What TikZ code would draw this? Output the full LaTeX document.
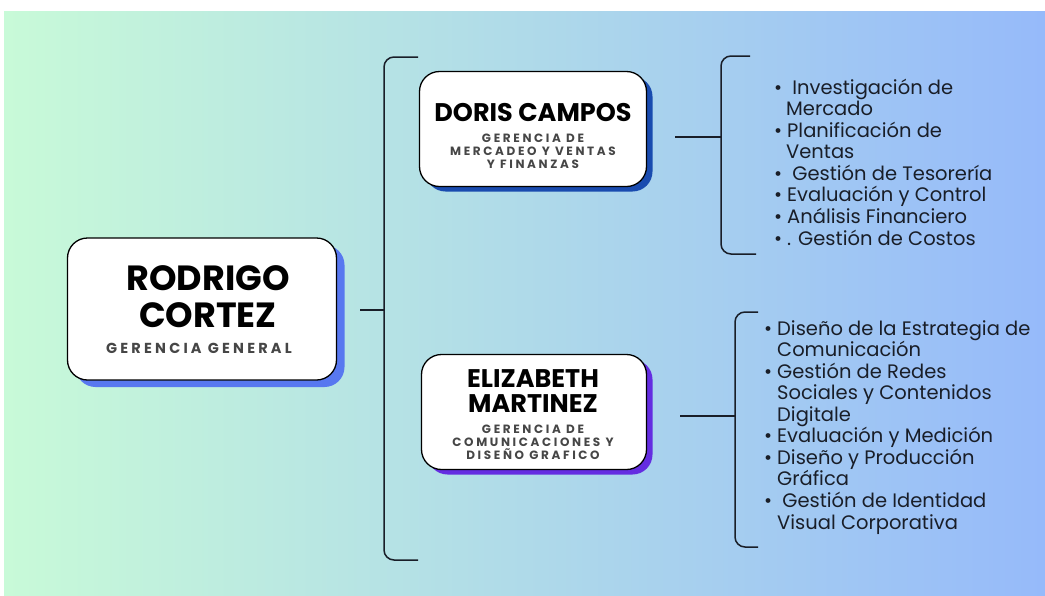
\documentclass[tikz,border=0pt]{standalone}
\usepackage{fontspec}
\setmainfont{Poppins}
\newfontfamily\subf{Poppins}[LetterSpace=22]
\definecolor{bgl}{RGB}{200,250,216}
\definecolor{bgm}{RGB}{177,222,232}
\definecolor{bgr}{RGB}{150,186,250}
\definecolor{shrod}{RGB}{88,120,240}
\definecolor{shdor}{RGB}{25,75,175}
\definecolor{sheli}{RGB}{100,45,225}
\definecolor{ink}{RGB}{25,30,40}
\definecolor{subink}{RGB}{70,70,70}
\begin{document}
\begin{tikzpicture}[x=1pt,y=-1pt,
  card/.style={draw=black, line width=1.3pt, fill=white, rounded corners=20pt, inner sep=0pt},
  cardsh/.style={rounded corners=20pt, inner sep=0pt},
  bigname/.style={font=\bfseries\fontsize{35}{37}\selectfont, align=center, text=black, inner sep=0pt},
  mgrname/.style={font=\bfseries\fontsize{25.5}{25}\selectfont, align=center, text=black, inner sep=0pt},
  subtx/.style={font=\subf\bfseries\fontsize{12}{12.8}\selectfont, align=center, text=subink, inner sep=0pt},
  brk/.style={draw=ink, line width=1.5pt, rounded corners=10pt},
  tickln/.style={draw=ink, line width=1.5pt},
  listitem/.style={font=\fontsize{19.5}{21}\selectfont, text=ink, anchor=base west, inner sep=0pt}
]
\useasboundingbox (0,0) rectangle (1045,595);
\fill[white] (0,0) rectangle (1045,595);
\shade[left color=bgl, middle color=bgm, right color=bgr] (4,11) rectangle (1045,595);

% Rodrigo
\node[cardsh, fill=shrod, minimum width=269pt, minimum height=142pt] (rodsh) at (210,316) {};
\node[card, minimum width=269pt, minimum height=142pt] (rod) at (202,309) {};
\node[bigname] (rodn) at (208,297) {RODRIGO\\CORTEZ};
\node[subtx, font=\subf\bfseries\fontsize{14.5}{15}\selectfont] (rods) at (199,348) {GERENCIA GENERAL};

% Doris
\node[cardsh, fill=shdor, minimum width=227pt, minimum height=115pt] (dorsh) at (539,134) {};
\node[card, minimum width=227pt, minimum height=115pt] (dor) at (533,129) {};
\node[mgrname] (dorn) at (533,113) {DORIS CAMPOS};
\node[subtx] (dors) at (533,151.5) {GERENCIA DE\\MERCADEO Y VENTAS\\Y FINANZAS};

% Elizabeth
\node[cardsh, fill=sheli, minimum width=225pt, minimum height=115pt] (elish) at (540,417) {};
\node[card, minimum width=225pt, minimum height=115pt] (eli) at (534,412) {};
\node[mgrname] (elin) at (533,391) {ELIZABETH\\MARTINEZ};
\node[subtx] (elis) at (533,442.5) {GERENCIA DE\\COMUNICACIONES Y\\DISEÑO GRAFICO};

% brackets and ticks
\coordinate (t0) at (360,310); \coordinate (b0) at (384,310);
\draw[brk] (418,57) -- (384,57) -- (384,560) -- (418,560);
\draw[tickln] (t0) -- (b0);

\coordinate (t1) at (675,137); \coordinate (b1) at (721,137);
\draw[brk] (750,56) -- (721,56) -- (721,254) -- (756,254);
\draw[tickln] (t1) -- (b1);

\coordinate (t2) at (680,416); \coordinate (b2) at (735,416);
\draw[brk] (758,312) -- (735,312) -- (735,547) -- (758,547);
\draw[tickln] (t2) -- (b2);

\newcommand{\bul}{\llap{•\kern5pt}}
% list 1
\node[listitem] (a1) at (787,94.0) {\bul\ Investigación de};
\node[listitem] (a2) at (786,115.6) {Mercado};
\node[listitem] (a3) at (787,137.1) {\bul Planificación de};
\node[listitem] (a4) at (786,158.7) {Ventas};
\node[listitem] (a5) at (787,180.3) {\bul\ Gestión de Tesorería};
\node[listitem] (a6) at (787,201.9) {\bul Evaluación y Control};
\node[listitem] (a7) at (787,223.4) {\bul Análisis Financiero};
\node[listitem] (a8) at (787,245.0) {\bul . Gestión de Costos};
% list 2
\node[listitem] (c1) at (777,335.0) {\bul Diseño de la Estrategia de};
\node[listitem] (c2) at (777,356.6) {Comunicación};
\node[listitem] (c3) at (777,378.1) {\bul Gestión de Redes};
\node[listitem] (c4) at (777,399.7) {Sociales y Contenidos};
\node[listitem] (c5) at (777,421.2) {Digitale};
\node[listitem] (c6) at (777,442.8) {\bul Evaluación y Medición};
\node[listitem] (c7) at (777,464.3) {\bul Diseño y Producción};
\node[listitem] (c8) at (777,485.9) {Gráfica};
\node[listitem] (c9) at (777,507.4) {\bul\ Gestión de Identidad};
\node[listitem] (c10) at (777,529.0) {Visual Corporativa};
\end{tikzpicture}
\end{document}
